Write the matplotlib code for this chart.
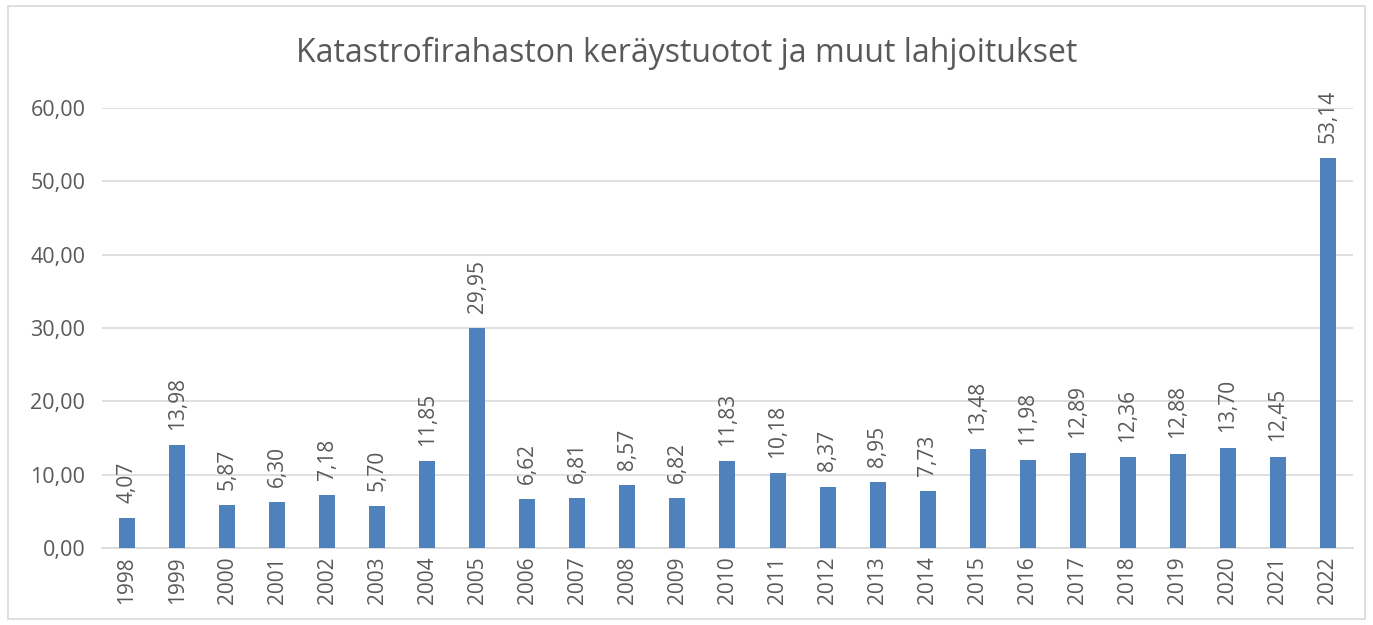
import matplotlib
matplotlib.use("Agg")
import matplotlib.pyplot as plt
from matplotlib.patches import Rectangle
import numpy as np

# Data
years = [str(y) for y in range(1998, 2023)]
values = [4.07, 13.98, 5.87, 6.30, 7.18, 5.70, 11.85, 29.95, 6.62, 6.81,
          8.57, 6.82, 11.83, 10.18, 8.37, 8.95, 7.73, 13.48, 11.98, 12.89,
          12.36, 12.88, 13.70, 12.45, 53.14]
yticks = [0, 10, 20, 30, 40, 50, 60]

TEXT = '#595959'
GRID = '#d9d9d9'
BAR = '#4f81bd'

plt.rcParams['font.family'] = ['Open Sans', 'DejaVu Sans']

fig = plt.figure(figsize=(13.73, 6.25), dpi=100)
ax = fig.add_axes([0.0743, 0.1232, 0.9111, 0.7040])

x = np.arange(len(years))
ax.bar(x, values, width=0.32, color=BAR, zorder=3)

def fmt(v):
    return f'{v:.2f}'.replace('.', ',')

for xi, v in zip(x, values):
    ax.annotate(fmt(v), (xi, v), xytext=(0, 11), textcoords='offset points',
                rotation=90, ha='center', va='bottom', fontsize=15, color=TEXT)

ax.set_xlim(-0.5, len(years) - 0.5)
ax.set_ylim(0, 60)
ax.set_yticks(yticks)
ax.set_yticklabels([fmt(t) for t in yticks], fontsize=15.5, color=TEXT)
ax.set_xticks(x)
ax.set_xticklabels(years, rotation=90, fontsize=15, color=TEXT)
ax.tick_params(axis='both', length=0)
ax.tick_params(axis='y', pad=12)
ax.tick_params(axis='x', pad=6)
ax.grid(axis='y', color=GRID, linewidth=1.2, zorder=0)
for s in ['top', 'right', 'left']:
    ax.spines[s].set_visible(False)
ax.spines['bottom'].set_color(GRID)
ax.spines['bottom'].set_linewidth(1.2)

fig.text(0.5, 0.915, 'Katastrofirahaston keräystuotot ja muut lahjoitukset',
         ha='center', va='center', fontsize=23, color=TEXT)

# outer chart border
fig.patches.append(Rectangle((8 / 1373, 6 / 625), 1 - 16 / 1373, 1 - 12 / 625,
                             transform=fig.transFigure, fill=False,
                             edgecolor=GRID, linewidth=1.2))

fig.savefig('out.png', dpi=100)
